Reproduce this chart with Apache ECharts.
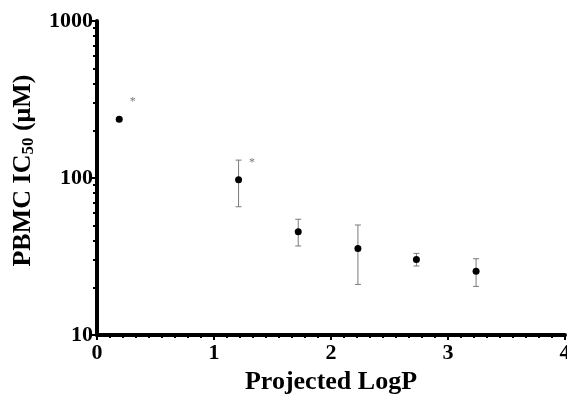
<!DOCTYPE html>
<html>
<head>
<meta charset="utf-8">
<script src="https://cdn.jsdelivr.net/npm/echarts@6/dist/echarts.min.js"></script>
<style>
  html, body { margin: 0; padding: 0; background: #fff; }
  #chart { width: 567px; height: 396px; }
</style>
</head>
<body>
<div id="chart"></div>
<script>
// values
const logP = [0.19, 1.21, 1.72, 2.23, 2.73, 3.24]
const ic50 = [237, 97.5, 45.5, 35.5, 30.3, 25.5]
const errLow = [231, 65.6, 36.9, 21.0, 27.5, 20.4]
const errHigh = [243, 130, 54.6, 50.2, 33.1, 30.6]
const marks = ['*', '*', '', '', '', '']
const yMinorTicks = [20, 30, 40, 50, 60, 70, 80, 90, 200, 300, 400, 500, 600, 700, 800, 900]

const FONT = "'Liberation Serif', 'Times New Roman', serif"

const chart = echarts.init(document.getElementById('chart'))

const pointData = logP.map((x, i) => ({
  value: [x, ic50[i]],
  label: { show: marks[i] !== '', formatter: marks[i] }
}))
const errData = logP.map((x, i) => [x, errLow[i], errHigh[i]])

const renderErrBar = (params, api) => {
  const x = api.value(0)
  const lo = api.coord([x, api.value(1)])
  const hi = api.coord([x, api.value(2)])
  const cap = 3
  const style = { stroke: '#7a7a7a', lineWidth: 1 }
  return {
    type: 'group',
    children: [
      { type: 'line', shape: { x1: lo[0], y1: lo[1], x2: hi[0], y2: hi[1] }, style },
      { type: 'line', shape: { x1: lo[0] - cap, y1: lo[1], x2: lo[0] + cap, y2: lo[1] }, style },
      { type: 'line', shape: { x1: hi[0] - cap, y1: hi[1], x2: hi[0] + cap, y2: hi[1] }, style }
    ]
  }
}

chart.setOption({
  animation: false,
  grid: { left: 97, right: 2, top: 21, bottom: 61, outerBoundsMode: 'none' },
  xAxis: {
    type: 'value',
    min: 0,
    max: 4,
    interval: 1,
    splitLine: { show: false },
    axisLine: { lineStyle: { color: '#000', width: 4 } },
    axisTick: { length: 5, lineStyle: { color: '#000', width: 2 } },
    minorTick: { show: true, splitNumber: 9, length: 3, lineStyle: { color: '#000', width: 2 } },
    axisLabel: { color: '#000', fontFamily: FONT, fontWeight: 'bold', fontSize: 22, margin: 7 },
    name: 'Projected LogP',
    nameLocation: 'middle',
    nameGap: 33,
    nameTextStyle: { color: '#000', fontFamily: FONT, fontWeight: 'bold', fontSize: 26 }
  },
  yAxis: [{
    type: 'log',
    logBase: 10,
    min: 10,
    max: 1000,
    splitLine: { show: false },
    axisLine: { lineStyle: { color: '#000', width: 4 } },
    axisTick: { length: 5, lineStyle: { color: '#000', width: 2 } },
    axisLabel: {
      color: '#000', fontFamily: FONT, fontWeight: 'bold', fontSize: 22, margin: 4,
      formatter: (v) => String(Math.round(v))
    },
    name: '{a|PBMC IC}{s|50}{a| (μM)}',
    nameLocation: 'middle',
    nameRotate: 90,
    nameGap: 60,
    nameTextStyle: {
      padding: [0, 0, 0, 15],
      rich: {
        a: { color: '#000', fontFamily: FONT, fontWeight: 'bold', fontSize: 26 },
        s: { color: '#000', fontFamily: FONT, fontWeight: 'bold', fontSize: 17, padding: [10, 0, 0, 0] }
      }
    }
  }, {
    // second axis only carries the log minor ticks (20..90, 200..900)
    type: 'log',
    logBase: 10,
    min: 10,
    max: 1000,
    position: 'left',
    splitLine: { show: false },
    axisLine: { show: false },
    axisLabel: { show: false },
    axisTick: { customValues: yMinorTicks, length: 4, lineStyle: { color: '#000', width: 2 } }
  }],
  series: [{
    type: 'custom',
    renderItem: renderErrBar,
    data: errData,
    encode: { x: 0, y: [1, 2] },
    z: 1
  }, {
    type: 'scatter',
    data: pointData,
    symbol: 'circle',
    symbolSize: 7,
    itemStyle: { color: '#000', opacity: 1 },
    label: {
      position: 'right',
      offset: [2, -17],
      color: '#7a7a7a',
      fontSize: 12,
      fontFamily: FONT
    },
    z: 2
  }]
})
</script>
</body>
</html>
